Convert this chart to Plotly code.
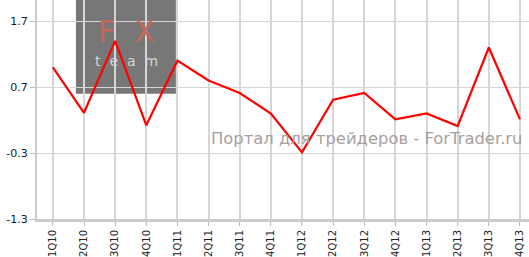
import plotly.graph_objects as go

quarters = ["1Q10", "2Q10", "3Q10", "4Q10", "1Q11", "2Q11", "3Q11", "4Q11",
            "1Q12", "2Q12", "3Q12", "4Q12", "1Q13", "2Q13", "3Q13", "4Q13"]
values = [1.00, 0.31, 1.40, 0.12, 1.10, 0.80, 0.61, 0.30,
          -0.29, 0.51, 0.61, 0.21, 0.30, 0.11, 1.30, 0.21]
y_ticks = [-1.3, -0.3, 0.7, 1.7]
watermark = "Портал для трейдеров - ForTrader.ru"
logo_top = "F\u00a0\u00a0X"
logo_bottom = "t\u00a0\u00a0e\u00a0\u00a0a\u00a0\u00a0m"

x_idx = list(range(len(quarters)))

fig = go.Figure()
fig.add_trace(go.Scatter(
    x=x_idx, y=values, mode="lines",
    line=dict(color="#ff0000", width=2.2),
    hoverinfo="skip",
))

# logo block (drawn beneath the grid)
fig.add_shape(type="rect", xref="x", yref="y", x0=0.74, x1=3.95, y0=0.6, y1=2.1,
              fillcolor="#777777", line=dict(width=0), layer="below")
fig.add_annotation(x=2.35, y=1.55, xref="x", yref="y", text=logo_top, showarrow=False,
                   font=dict(family="DejaVu Sans", size=30, color="#c4675a"))
fig.add_annotation(x=2.35, y=1.09, xref="x", yref="y", text=logo_bottom, showarrow=False,
                   font=dict(family="DejaVu Sans", size=14, color="#d4d4d4"))

fig.add_annotation(x=1, xref="paper", xanchor="right", xshift=-4, y=-0.08, yref="y",
                   text=watermark, showarrow=False,
                   font=dict(family="DejaVu Sans", size=16.4, color="#a89f9f"))

fig.update_layout(
    width=529, height=257,
    margin=dict(l=37, r=0, t=0, b=35),
    paper_bgcolor="white", plot_bgcolor="white",
    showlegend=False,
    xaxis=dict(
        range=[-0.51, 15.29],
        tickmode="array", tickvals=x_idx, ticktext=quarters,
        tickangle=-90,
        tickfont=dict(family="DejaVu Sans", size=10, color="#222222"),
        showgrid=True, gridcolor="#d6d6d6", gridwidth=1.6,
        showline=True, linecolor="#cccccc", linewidth=3,
        ticks="outside", ticklen=4, tickcolor="#bbbbbb",
        zeroline=False,
    ),
    yaxis=dict(
        range=[-1.3, 2.02],
        tickmode="array", tickvals=y_ticks, ticktext=[str(v) for v in y_ticks],
        tickfont=dict(family="DejaVu Sans", size=11, color="#0d1b3e"),
        showgrid=True, gridcolor="#d6d6d6", gridwidth=1,
        showline=True, linecolor="#cccccc", linewidth=2,
        ticks="outside", ticklen=5, tickcolor="#bbbbbb",
        zeroline=False,
    ),
)

fig.write_html("out.html")
